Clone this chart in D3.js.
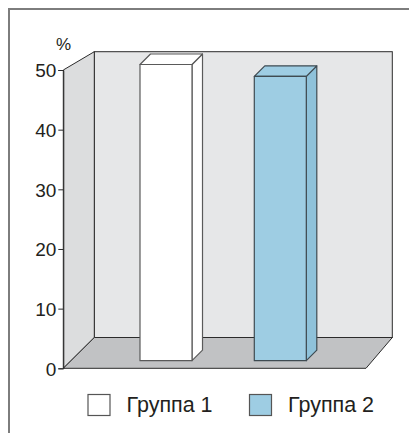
<!DOCTYPE html>
<html>
<head>
<meta charset="utf-8">
<script src="https://cdn.jsdelivr.net/npm/d3@7"></script>
<style>
  html, body { margin: 0; padding: 0; background: #ffffff; }
  svg { display: block; }
  text { fill: #231f20; }
</style>
</head>
<body>
<script>
// Share of patients by group, %
const categories = ["Группа 1", "Группа 2"];
const values = [50, 48];
const tickValues = [0, 10, 20, 30, 40, 50];
const unitLabel = "%";

const W = 409, H = 433;
const svg = d3.select("body").append("svg").attr("width", W).attr("height", H);

// outer frame (top and left edges)
svg.append("path")
  .attr("d", "M9,433 V9 H409")
  .attr("fill", "none").attr("stroke", "#7d7d7d").attr("stroke-width", 2);

// 3D box geometry
const front = { left: 63.3, right: 366, bottom: 368.3 };
const back = { left: 94.3, right: 392.3, top: 51.7, bottom: 337.5 };

const y = d3.scaleLinear().domain([0, 50]).range([front.bottom, 70]);
// bars sit slightly behind the front edge of the floor
const yBar = d3.scaleLinear().domain([0, 50]).range([360.7, 64.5]);
const x = d3.scaleBand().domain(categories).range([82.85, 363.45])
  .paddingInner(0.545).paddingOuter(0.5);

const edge = "#2b2b2b";
const axisFont = "Liberation Sans, Arial, sans-serif";
const labelFont = "Liberation Sans, Arial, sans-serif";

// back wall
svg.append("rect")
  .attr("x", back.left).attr("y", back.top)
  .attr("width", back.right - back.left).attr("height", back.bottom - back.top)
  .attr("fill", "#e6e7e8").attr("stroke", edge).attr("stroke-width", 1);

// left side wall
svg.append("path")
  .attr("d", `M${front.left},${y(50)} L${back.left},${back.top} L${back.left},${back.bottom} L${front.left},${front.bottom} Z`)
  .attr("fill", "#dcddde").attr("stroke", edge).attr("stroke-width", 1);

// floor
svg.append("path")
  .attr("d", `M${front.left},${front.bottom} L${back.left},${back.bottom} L${back.right},${back.bottom} L${front.right},${front.bottom} Z`)
  .attr("fill", "#c1c2c4").attr("stroke", edge).attr("stroke-width", 1);

// y axis
const axis = d3.axisLeft(y).tickValues(tickValues).tickSize(5).tickPadding(2);
const gA = svg.append("g").attr("transform", `translate(${front.left},0)`).call(axis);
gA.attr("font-family", axisFont).attr("font-size", 19);
gA.select(".domain").attr("stroke", edge);
gA.selectAll(".tick line").attr("stroke", edge);
gA.selectAll(".tick text").attr("fill", "#231f20").attr("dy", "0.36em");

svg.append("text").attr("x", 63.5).attr("y", 49.5).attr("text-anchor", "middle")
  .attr("font-family", axisFont).attr("font-size", 17).text(unitLabel);

// bars
const fills = [
  { front: "#ffffff", side: "#ffffff", top: "#ffffff", stroke: "#5a5a5a" },
  { front: "#9ecde3", side: "#8fc2da", top: "#9ecde3", stroke: "#3f4b52" }
];
const dx = 10.5, dy = 10.5;

categories.forEach((c, i) => {
  const x0 = x(c), x1 = x0 + x.bandwidth();
  const yt = yBar(values[i]), yb = yBar(0);
  const f = fills[i];
  const g = svg.append("g").attr("stroke", f.stroke).attr("stroke-width", 1.2).attr("stroke-linejoin", "round");
  g.append("path") // side face
    .attr("d", `M${x1},${yt} L${x1 + dx},${yt - dy} L${x1 + dx},${yb - dy} L${x1},${yb} Z`)
    .attr("fill", f.side);
  g.append("path") // top face
    .attr("d", `M${x0},${yt} L${x0 + dx},${yt - dy} L${x1 + dx},${yt - dy} L${x1},${yt} Z`)
    .attr("fill", f.top);
  g.append("rect") // front face
    .attr("x", x0).attr("y", yt).attr("width", x1 - x0).attr("height", yb - yt)
    .attr("fill", f.front);
});

// legend
const legendX = [88, 249.5];
categories.forEach((c, i) => {
  svg.append("rect").attr("x", legendX[i]).attr("y", 394.5).attr("width", 22).attr("height", 21)
    .attr("fill", fills[i].front).attr("stroke", "#555").attr("stroke-width", 1.2);
  svg.append("text").attr("x", legendX[i] + 38.5).attr("y", 412)
    .attr("font-family", labelFont).attr("font-size", 21.5).text(c);
});
</script>
</body>
</html>
